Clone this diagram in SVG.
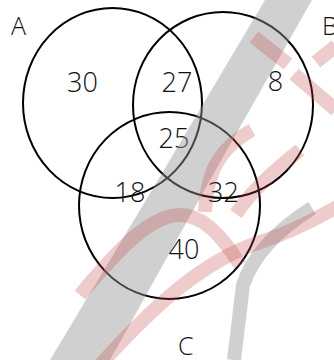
<svg xmlns="http://www.w3.org/2000/svg" width="334" height="360" viewBox="0 0 334 360">
  <style>
    .set { fill: none; stroke: #000; stroke-width: 2; }
    .lbl { font-family: "Open Sans", "Liberation Sans", sans-serif; font-weight: 300; font-size: 25px; fill: #111; }
    .num { font-family: "Open Sans", "Liberation Sans", sans-serif; font-weight: 300; font-size: 27px; fill: #111; text-anchor: middle; }
    .wm-gray { fill: none; stroke: #979797; stroke-opacity: 0.45; }
    .wm-pink { fill: none; stroke: #c54848; stroke-opacity: 0.28; stroke-width: 14; }
  </style>
  <rect width="334" height="360" fill="#fff"/>

  <g id="set-A">
    <ellipse class="set" cx="112.5" cy="103" rx="89.5" ry="95"/>
    <text class="lbl" x="11" y="35">A</text>
  </g>
  <g id="set-B">
    <ellipse class="set" cx="223" cy="105" rx="90" ry="93"/>
    <text class="lbl" x="322" y="35">B</text>
  </g>
  <g id="set-C">
    <ellipse class="set" cx="169.5" cy="205.5" rx="90.5" ry="93.5"/>
    <text class="lbl" x="178" y="355">C</text>
  </g>

  <g id="regions">
    <text class="num" x="82.5" y="92">30</text>
    <text class="num" x="177" y="92">27</text>
    <text class="num" x="275.5" y="91">8</text>
    <text class="num" x="174" y="148">25</text>
    <text class="num" x="130" y="202">18</text>
    <text class="num" x="223.5" y="202">32</text>
    <text class="num" x="184" y="259">40</text>
  </g>

  <g id="watermark">
    <polygon points="265,0 312,0 210,180 110,360 50,360 158,180" fill="#979797" fill-opacity="0.45"/>
    <path class="wm-gray" stroke-width="14" d="M 312 208 C 285 225 255 250 243 285 L 234 360"/>
    <path class="wm-pink" d="M 254 37 L 288 64"/>
    <path class="wm-pink" d="M 294 74 L 336 110"/>
    <path class="wm-pink" d="M 316 62 L 336 46"/>
    <path class="wm-pink" d="M 80 295 C 118 250 150 215 180 215 C 205 215 225 240 240 265"/>
    <path class="wm-pink" d="M 100 365 C 150 310 200 262 260 242 C 292 232 318 218 340 205"/>
    <path class="wm-pink" d="M 252 130 C 225 145 207 165 205 212"/>
    <path class="wm-pink" d="M 300 150 C 275 170 252 190 236 214"/>
  </g>
</svg>
